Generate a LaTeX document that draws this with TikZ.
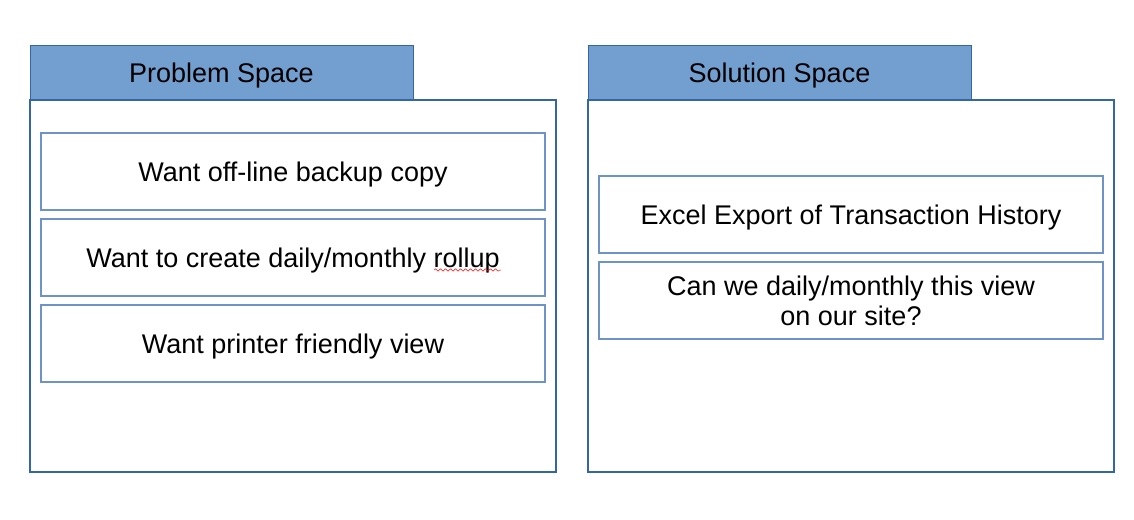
\documentclass[tikz,border=0pt]{standalone}
\usepackage{fontspec}
\setmainfont{Liberation Sans}
\usetikzlibrary{decorations.pathmorphing}
\definecolor{tabfill}{HTML}{729FCF}
\definecolor{darkblue}{HTML}{3465A4}
\definecolor{lightblue}{HTML}{6D93C7}
\begin{document}
\begin{tikzpicture}[x=1pt,y=-1pt,
  outerbox/.style={draw=darkblue,line width=1.8pt,fill=white,minimum width=526pt,minimum height=372pt,inner sep=0pt},
  tabbox/.style={draw=darkblue,line width=0.8pt,fill=tabfill,minimum width=383pt,minimum height=55pt,inner sep=0pt,text depth=0pt,font=\fontsize{27}{31}\selectfont},
  itembox/.style={draw=lightblue,line width=1.1pt,fill=white,minimum width=504pt,minimum height=77pt,inner sep=0pt,align=center,font=\fontsize{27}{30}\selectfont},
  oneline/.style={itembox,text depth=0pt}
]
\fill[white] (0,0) rectangle (1134,519);
\useasboundingbox (0,0) rectangle (1134,519);
% Problem space
\node[tabbox] (ptab) at (221.5,72.5) {Problem Space};
\node[outerbox] (pbox) at (293,286) {};
\node[oneline] (p1) at (293,171.5) {Want off-line backup copy};
\node[oneline] (p2) at (293,257.5) {Want to create daily/monthly rollup};
\node[oneline] (p3) at (293,343.5) {Want printer friendly view};
\draw[red,line width=0.5pt,decorate,decoration={snake,amplitude=1.2pt,segment length=5pt}] (434,270) -- (501,270);
% Solution space
\node[tabbox] (stab) at (779.5,72.5) {Solution Space};
\node[outerbox] (sbox) at (851,286) {};
\node[oneline] (s1) at (851,214.5) {Excel Export of Transaction History};
\node[itembox] (s2) at (851,300.5) {Can we daily/monthly this view\\on our site?};
\end{tikzpicture}
\end{document}
